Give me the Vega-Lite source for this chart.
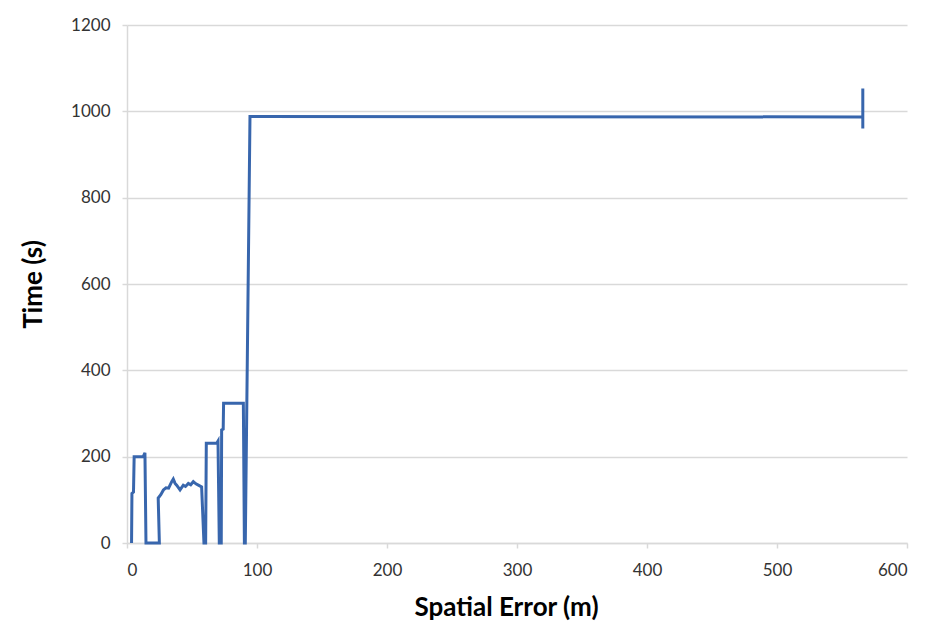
{
  "$schema": "https://vega.github.io/schema/vega-lite/v6.json",
  "autosize": {"type": "none"},
  "padding": {"left": 127, "top": 25, "right": 24, "bottom": 92},
  "width": 780,
  "height": 518,
  "background": "white",
  "data": {"values": [
    {"i": 0, "x": 3.5, "y": 0},
    {"i": 1, "x": 3.8, "y": 115},
    {"i": 2, "x": 5, "y": 118},
    {"i": 3, "x": 5.5, "y": 200},
    {"i": 4, "x": 12.5, "y": 200},
    {"i": 5, "x": 13.8, "y": 209},
    {"i": 6, "x": 14.6, "y": 0},
    {"i": 7, "x": 24.9, "y": 0},
    {"i": 8, "x": 24, "y": 104},
    {"i": 9, "x": 26, "y": 112},
    {"i": 10, "x": 28, "y": 123},
    {"i": 11, "x": 30, "y": 128},
    {"i": 12, "x": 32, "y": 127},
    {"i": 13, "x": 34.4, "y": 142},
    {"i": 14, "x": 35.6, "y": 148},
    {"i": 15, "x": 37, "y": 138},
    {"i": 16, "x": 38.2, "y": 134},
    {"i": 17, "x": 40.8, "y": 123},
    {"i": 18, "x": 43.3, "y": 134},
    {"i": 19, "x": 45, "y": 131},
    {"i": 20, "x": 47.2, "y": 138},
    {"i": 21, "x": 49, "y": 135},
    {"i": 22, "x": 51, "y": 142},
    {"i": 23, "x": 53, "y": 137},
    {"i": 24, "x": 54.9, "y": 134},
    {"i": 25, "x": 57.4, "y": 130},
    {"i": 26, "x": 59.2, "y": 0},
    {"i": 27, "x": 60.5, "y": 0},
    {"i": 28, "x": 61, "y": 231},
    {"i": 29, "x": 69, "y": 231},
    {"i": 30, "x": 70, "y": 236},
    {"i": 31, "x": 71, "y": 0},
    {"i": 32, "x": 72.5, "y": 0},
    {"i": 33, "x": 72.8, "y": 262},
    {"i": 34, "x": 74, "y": 264},
    {"i": 35, "x": 74.3, "y": 324},
    {"i": 36, "x": 89.5, "y": 324},
    {"i": 37, "x": 90.3, "y": 0},
    {"i": 38, "x": 91, "y": 0},
    {"i": 39, "x": 94.6, "y": 988},
    {"i": 40, "x": 566, "y": 987},
    {"i": 41, "x": 566, "y": 1053},
    {"i": 42, "x": 566, "y": 960}
  ]},
  "mark": {"type": "line", "color": "#3866ad", "strokeWidth": 3, "strokeJoin": "miter"},
  "encoding": {
    "x": {
      "field": "x", "type": "quantitative",
      "scale": {"domain": [0, 600], "nice": false},
      "axis": {
        "title": "Spatial Error (m)", "values": [0, 100, 200, 300, 400, 500, 600], "format": "d",
        "grid": false, "domainColor": "#d9d9d9", "domainWidth": 1.5,
        "tickColor": "#d9d9d9", "tickSize": 5, "tickWidth": 1.5,
        "labelFont": "Lato", "labelFontSize": 17, "labelColor": "#333333", "labelPadding": 14,
        "titleFont": "Lato", "titleFontSize": 26, "titleFontWeight": "bold", "titleColor": "#000000", "titlePadding": 16,
        "titleX": 379
      }
    },
    "y": {
      "field": "y", "type": "quantitative",
      "scale": {"domain": [0, 1200], "nice": false},
      "axis": {
        "title": "Time (s)", "values": [0, 200, 400, 600, 800, 1000, 1200], "format": "d",
        "grid": true, "gridColor": "#d9d9d9", "gridWidth": 1.5,
        "domainColor": "#d9d9d9", "domainWidth": 1.5,
        "tickColor": "#d9d9d9", "tickSize": 5, "tickWidth": 1.5,
        "labelFont": "Lato", "labelFontSize": 17, "labelColor": "#333333", "labelPadding": 12,
        "titleFont": "Lato", "titleFontSize": 26, "titleFontWeight": "bold", "titleColor": "#000000", "titlePadding": 24
      }
    },
    "order": {"field": "i", "type": "quantitative"}
  },
  "config": {"view": {"stroke": null}}
}
